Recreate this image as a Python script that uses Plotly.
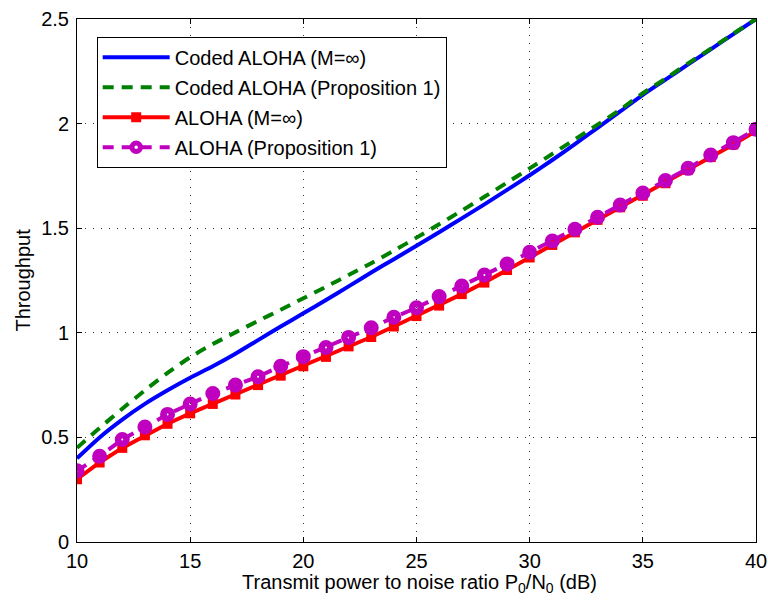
import plotly.graph_objects as go

x_db = list(range(10, 41))

coded_aloha_inf = [0.40, 0.50, 0.585, 0.66, 0.725, 0.785, 0.84, 0.90, 0.965, 1.03,
                   1.093, 1.157, 1.222, 1.288, 1.352, 1.416, 1.481, 1.547, 1.614, 1.683,
                   1.753, 1.826, 1.902, 1.98, 2.058, 2.137, 2.21, 2.283, 2.355, 2.428, 2.5]
coded_aloha_prop = [0.45, 0.545, 0.637, 0.725, 0.808, 0.883, 0.946, 1.002, 1.057, 1.11,
                    1.165, 1.22, 1.276, 1.333, 1.393, 1.455, 1.519, 1.584, 1.65, 1.718,
                    1.786, 1.855, 1.925, 1.995, 2.067, 2.145, 2.215, 2.288, 2.358, 2.43, 2.5]
aloha_inf = [0.30, 0.38, 0.45, 0.51, 0.565, 0.615, 0.66, 0.705, 0.75, 0.795,
             0.84, 0.885, 0.935, 0.98, 1.03, 1.08, 1.13, 1.185, 1.24, 1.30,
             1.36, 1.42, 1.48, 1.54, 1.60, 1.655, 1.715, 1.78, 1.84, 1.90, 1.965]
aloha_prop = [0.34, 0.41, 0.49, 0.55, 0.61, 0.66, 0.71, 0.75, 0.79, 0.84,
              0.886, 0.93, 0.978, 1.024, 1.074, 1.12, 1.173, 1.224, 1.276, 1.329,
              1.385, 1.439, 1.495, 1.552, 1.611, 1.668, 1.728, 1.786, 1.85, 1.909, 1.973]

x_ticks = [10, 15, 20, 25, 30, 35, 40]
y_ticks = [0, 0.5, 1, 1.5, 2, 2.5]
y_tick_text = ["0", "0.5", "1", "1.5", "2", "2.5"]

FONT = "Liberation Sans, Arial, Helvetica, sans-serif"

fig = go.Figure()
fig.add_trace(go.Scatter(x=x_db, y=coded_aloha_inf, mode="lines",
                         name="Coded ALOHA (M=∞)", legendgroup="a",
                         line=dict(color="#0000FF", width=4, shape="spline", smoothing=0.8)))
fig.add_trace(go.Scatter(x=x_db, y=coded_aloha_prop, mode="lines",
                         name="Coded ALOHA (Proposition 1)", legendgroup="b",
                         line=dict(color="#008000", width=4, dash="11px,8px",
                                   shape="spline", smoothing=0.8)))
fig.add_trace(go.Scatter(x=x_db, y=aloha_inf, mode="lines+markers",
                         name="ALOHA (M=∞)", legendgroup="c",
                         line=dict(color="#FF0000", width=4),
                         marker=dict(symbol="square", size=10, color="#FF0000")))
fig.add_trace(go.Scatter(x=x_db, y=aloha_prop, mode="lines+markers",
                         name="ALOHA (Proposition 1)", legendgroup="d",
                         line=dict(color="#BF00BF", width=4, dash="11px,8px"),
                         marker=dict(symbol="circle-open", size=8.5,
                                     line=dict(color="#BF00BF", width=6.5))))

axis_common = dict(
    showline=True, linecolor="black", linewidth=1, mirror="ticks",
    ticks="inside", ticklen=5, tickcolor="black",
    showgrid=True, gridcolor="#333333", gridwidth=1, griddash="1px,7px",
    zeroline=False, automargin=False,
    tickfont=dict(family=FONT, size=20, color="black"),
)

fig.update_xaxes(range=[10, 40], tickvals=x_ticks, ticklabelstandoff=1, **axis_common)
fig.update_yaxes(range=[0, 2.5], tickvals=y_ticks, ticktext=y_tick_text,
                 ticklabelstandoff=3, **axis_common)

fig.add_annotation(text="Transmit power to noise ratio P<sub>0</sub>/N<sub>0</sub> (dB)",
                   xref="paper", yref="paper", x=0.505, y=-0.079,
                   xanchor="center", yanchor="middle", showarrow=False,
                   font=dict(family=FONT, size=20, color="black"))
fig.add_annotation(text="Throughput", textangle=-90,
                   xref="paper", yref="paper", x=-0.081, y=0.5,
                   xanchor="center", yanchor="middle", showarrow=False,
                   font=dict(family=FONT, size=20, color="black"))

fig.update_layout(
    width=768, height=604,
    margin=dict(l=77, r=12, t=19, b=62),
    paper_bgcolor="white", plot_bgcolor="white",
    font=dict(family=FONT, size=20, color="black"),
    legend=dict(x=0.029, y=0.966, xanchor="left", yanchor="top",
                bgcolor="white", bordercolor="black", borderwidth=1,
                font=dict(family=FONT, size=20, color="black"),
                tracegroupgap=1, itemwidth=67),
    showlegend=True,
)

fig.write_html("out.html", config={"displayModeBar": False},
               post_script="document.body.style.margin='0px';")
